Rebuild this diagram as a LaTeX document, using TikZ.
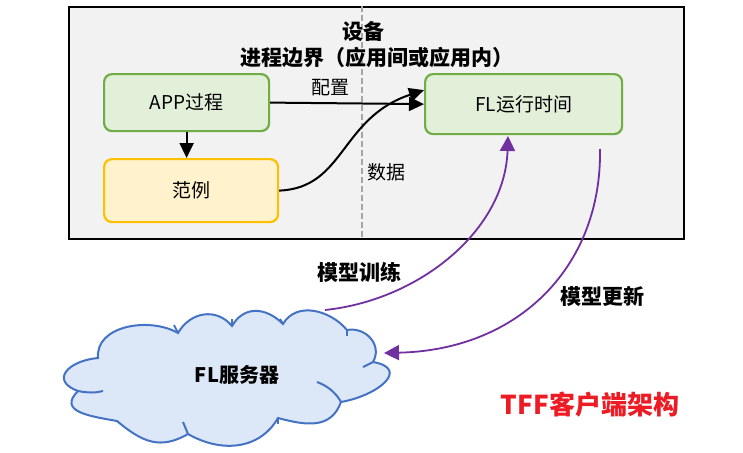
\documentclass[tikz,border=0pt]{standalone}
\usepackage{fontspec}
\setmainfont{Noto Sans CJK SC}
\usetikzlibrary{arrows.meta}
\definecolor{devfill}{HTML}{F2F2F2}
\definecolor{grfill}{HTML}{E2F0D9}
\definecolor{grline}{HTML}{70AD47}
\definecolor{yefill}{HTML}{FFF2CC}
\definecolor{yeline}{HTML}{FFC000}
\definecolor{blfill}{HTML}{DCE8F7}
\definecolor{blline}{HTML}{4472C4}
\definecolor{purp}{HTML}{7030A0}
\definecolor{redt}{HTML}{ED1C24}
\begin{document}
\begin{tikzpicture}[x=1pt,y=-1pt,
  gbox/.style={draw=grline,fill=grfill,line width=2.2pt,rounded corners=8pt,inner sep=0pt,font=\fontsize{19}{22}\selectfont},
  ybox/.style={draw=yeline,fill=yefill,line width=2.2pt,rounded corners=8pt,inner sep=0pt,font=\fontsize{19}{22}\selectfont},
  lbl/.style={font=\fontsize{19}{22}\selectfont},
  blbl/.style={font=\fontsize{21}{24}\selectfont\bfseries},
  blk/.style={draw=black,line width=2pt,-{Triangle[length=15pt,width=14pt]}},
  pur/.style={draw=purp,line width=1.8pt,-{Triangle[length=15pt,width=15pt]}},
  cloudln/.style={draw=blline,line width=2pt}]
\useasboundingbox (0,0) rectangle (743,452);
% device box
\node[draw=black,fill=devfill,line width=2pt,minimum width=615pt,minimum height=232pt,anchor=north west,inner sep=0pt] (dev) at (68,6) {};
\coordinate (dtop) at (362,6);
\coordinate (dbot) at (362,238);
\draw[black!35,dash pattern=on 6pt off 3pt,line width=1.5pt] (dtop) -- (dbot);
\node[blbl] (t1) at (363,31) {设备};
\node[blbl] (t2) at (377,58) {进程边界（应用间或应用内）};
% boxes
\node[gbox,minimum width=165pt,minimum height=57pt,anchor=north west] (app) at (103,73) {APP过程};
\node[ybox,minimum width=174pt,minimum height=63pt,anchor=north west] (ex) at (103,158) {范例};
\node[gbox,minimum width=197pt,minimum height=60pt,anchor=north west] (fl) at (424,73) {FL运行时间};
% black arrows
\draw[blk] (app.south) -- (ex.north -| app.south);
\draw[blk] (app.east) -- (fl.west);
\node[lbl] (pz) at (330,88) {配置};
\draw[blk] (ex.east) .. controls (345,188) and (340,118) .. ([yshift=14pt]fl.west);
\node[lbl] (sj) at (386,172) {数据};
% cloud
\coordinate (cA) at (98,358);
\coordinate (cB) at (178,333);
\coordinate (cC) at (232,326);
\coordinate (cD) at (283,324);
\coordinate (cE) at (347,330);
\coordinate (cF) at (373,362);
\coordinate (cG) at (341,402);
\coordinate (cH) at (278,418);
\coordinate (cI) at (188,434);
\coordinate (cJ) at (117,421);
\coordinate (cK) at (78,391);
\path[cloudln,fill=blfill] (cA)
  to[out=95,in=150,looseness=1] (cB)
  to[out=60,in=130,looseness=1.15] (cC)
  to[out=60,in=135,looseness=1.2] (cD)
  to[out=60,in=130,looseness=1.05] (cE)
  to[out=10,in=60,looseness=1.2] (cF)
  to[out=-10,in=10,looseness=1.9] (cG)
  to[out=-110,in=-15,looseness=1.15] (cH)
  to[out=-120,in=-30,looseness=1.05] (cI)
  to[out=-150,in=-40,looseness=1.15] (cJ)
  to[out=170,in=-135,looseness=1.5] (cK)
  to[out=160,in=-175,looseness=2] cycle;
\draw[cloudln] (cK) .. controls (88,393) and (96,393) .. (103,391);
\draw[cloudln] (cB) -- (174,325);
\draw[cloudln] (cC) -- (232,319);
\draw[cloudln] (cD) -- (280,319);
\draw[cloudln] (cE) -- (347,336);
\draw[cloudln] (cF) -- (363,367);
\draw[cloudln] (cG) .. controls (336,393) and (328,386) .. (317,382);
\draw[cloudln] (cH) -- (278,424);
\draw[cloudln] (cI) -- (183,422);
\node[font=\fontsize{20}{23}\selectfont\bfseries] (srv) at (237,375) {FL服务器};
% purple arrows
\coordinate (trs) at (325,310);
\coordinate (trt) at (508,136);
\draw[pur] (trs) .. controls (420,300) and (505,230) .. (trt);
\coordinate (ups) at (600,149);
\coordinate (upt) at (384,353);
\draw[pur] (ups) .. controls (602,265) and (520,350) .. (upt);
\node[blbl] (l1) at (359,272) {模型训练};
\node[blbl] (l2) at (602,296) {模型更新};
\node[font=\fontsize{26}{30}\selectfont\bfseries,text=redt] (tt) at (590,405) {TFF客户端架构};
\end{tikzpicture}
\end{document}
